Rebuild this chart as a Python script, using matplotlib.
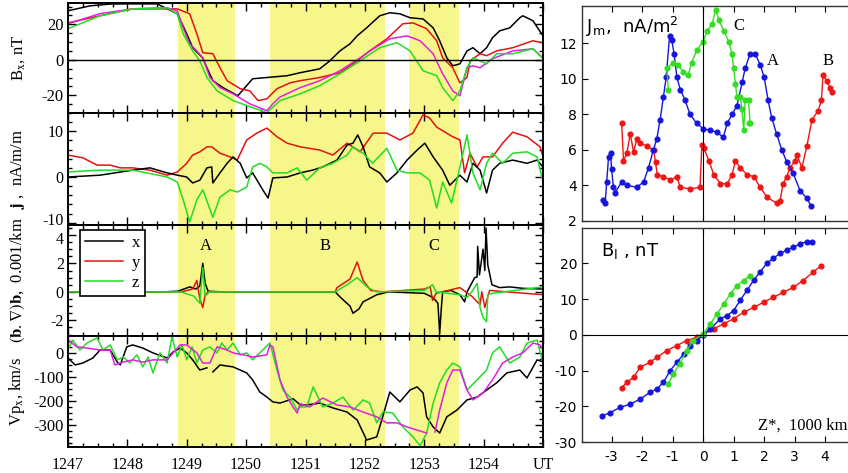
import numpy as np
import matplotlib
matplotlib.use('Agg')
import matplotlib.pyplot as plt
from matplotlib.ticker import MultipleLocator
from matplotlib.transforms import ScaledTranslation

plt.rcParams['axes.unicode_minus'] = False
plt.rcParams['mathtext.fontset'] = 'stix'

SERIF = 'Liberation Serif'
SANS = 'DejaVu Sans'

# ---- time series, minutes after 12:47 UT ----
# Bx, nT
bx_k_t = [0.00, 0.37, 0.71, 0.99, 1.50, 1.84, 2.00, 2.10, 2.27, 2.34, 2.44, 2.61, 2.86, 2.98, 3.11, 3.35, 3.69,
          3.91, 4.24, 4.41, 4.58, 4.75, 4.87, 5.03, 5.25, 5.42, 5.59, 5.76, 5.98, 6.15, 6.26, 6.38, 6.48, 6.60,
          6.72, 6.82, 6.94, 7.05, 7.15, 7.27, 7.44, 7.61, 7.66, 7.83, 8.00]
bx_k = [27.6, 30.4, 31.4, 31.5, 31.5, 26.0, 14.6, 6.8, 1.0, -4.5, -11.8, -15.7, -20.3, -15.7, -10.7, -10.0, -9.0,
        -7.3, -5.1, -0.6, 5.0, 9.0, 13.5, 18.0, 24.8, 26.5, 25.9, 23.7, 23.0, 18.0, 10.7, 1.1, -3.4, -2.3,
        5.0, 6.8, 3.4, 6.8, 12.4, 16.3, 18.0, 23.7, 24.8, 22.0, 13.5]
bx_r_t = [0.00, 0.54, 1.09, 1.84, 2.05, 2.17, 2.27, 2.44, 2.56, 2.68, 2.90, 3.06, 3.20, 3.35, 3.52, 3.74, 3.91,
          4.24, 4.58, 4.87, 5.08, 5.37, 5.64, 5.81, 6.04, 6.21, 6.31, 6.48, 6.60, 6.72, 6.77, 6.94, 7.05, 7.22,
          7.49, 7.83, 8.00]
bx_r = [20.8, 24.8, 28.7, 28.7, 25.9, 14.6, 4.0, 3.4, -4.5, -11.8, -16.3, -17.5, -23.0, -22.0, -16.3, -13.0, -11.8,
        -10.0, -7.3, -0.6, 5.0, 11.8, 20.3, 20.8, 17.5, 10.7, 1.1, -4.5, -13.0, -10.0, -0.6, 3.4, 2.3, 5.0,
        6.8, 10.7, 9.6]
bx_m_t = [0.00, 0.54, 1.09, 1.67, 1.84, 1.94, 2.05, 2.17, 2.27, 2.39, 2.56, 2.78, 3.06, 3.35, 3.45, 3.57, 3.91,
          4.24, 4.58, 4.92, 5.14, 5.42, 5.71, 5.93, 6.15, 6.31, 6.48, 6.60, 6.72, 6.82, 6.94, 7.15, 7.49, 7.83, 8.00]
bx_m = [20.3, 26.0, 28.7, 29.3, 27.6, 18.0, 9.0, 5.0, 1.0, -10.0, -15.7, -19.2, -24.8, -28.7, -24.8, -21.0, -15.7,
        -11.8, -6.2, 1.1, 6.2, 11.8, 13.5, 10.7, 3.4, -7.9, -17.5, -20.3, -4.5, -3.4, -4.5, 0.6, 5.0, 6.2, 1.1]
bx_g_t = [0.00, 0.54, 1.09, 1.67, 1.84, 1.94, 2.10, 2.22, 2.34, 2.51, 2.78, 3.11, 3.35, 3.57, 3.91, 4.24, 4.58,
          4.92, 5.25, 5.54, 5.76, 5.98, 6.21, 6.31, 6.48, 6.60, 6.72, 6.82, 7.05, 7.22, 7.49, 7.83, 8.00]
bx_g = [17.5, 24.8, 28.7, 29.3, 25.9, 14.6, 5.0, -0.6, -10.0, -17.5, -23.0, -27.0, -29.8, -23.0, -19.2, -14.6, -7.9,
        -0.6, 6.8, 9.6, 5.0, -6.2, -9.0, -15.7, -23.0, -17.5, -4.5, 1.1, -2.3, 3.4, 3.4, 6.2, 0.6]

# current density j, nA/m/m
j_r_t = [0.00, 0.25, 0.49, 0.71, 0.88, 1.09, 1.38, 1.67, 1.84, 2.00, 2.10, 2.22, 2.34, 2.42, 2.56, 2.73, 2.85,
         3.01, 3.18, 3.35, 3.52, 3.69, 3.91, 4.24, 4.46, 4.70, 4.92, 5.14, 5.37, 5.59, 5.81, 5.98, 6.09, 6.21,
         6.48, 6.60, 6.68, 6.77, 6.89, 6.99, 7.15, 7.32, 7.49, 7.73, 7.95, 8.00]
j_r = [4.8, 4.2, 2.6, 2.6, 2.0, 2.0, 1.5, 0.4, 1.1, 3.0, 4.8, 5.5, 6.6, 6.6, 5.2, 4.4, 3.7,
       8.1, 9.6, 10.7, 8.8, 7.4, 6.6, 5.9, 4.8, 7.4, 5.5, 9.6, 9.6, 8.1, 9.6, 13.6, 12.9, 10.9,
       8.8, 8.1, 0.9, 5.2, 2.2, 4.4, 4.4, 7.4, 9.8, 8.8, 6.6, 4.4]
j_k_t = [0.00, 0.54, 1.09, 1.38, 1.67, 1.84, 2.00, 2.10, 2.22, 2.34, 2.42, 2.44, 2.56, 2.68, 2.78, 2.90, 3.01,
         3.11, 3.28, 3.37, 3.45, 3.69, 3.91, 4.12, 4.29, 4.53, 4.70, 4.80, 4.88, 4.97, 5.08, 5.25, 5.37, 5.54,
         5.71, 5.88, 6.01, 6.15, 6.31, 6.43, 6.60, 6.72, 6.82, 6.94, 7.05, 7.15, 7.27, 7.49, 7.73, 7.90, 8.00]
j_k = [0.0, 0.4, 1.5, 2.0, 0.9, 0.4, 0.0, -1.3, -0.7, 2.0, 2.2, -1.3, 0.9, 3.0, 4.4, 3.0, -0.2,
       0.9, -2.8, -4.6, -0.2, 0.0, 0.9, 1.5, 2.2, 3.7, 7.0, 7.4, 9.2, 6.6, 2.2, 0.9, -1.1, 0.9,
       3.7, 5.9, 7.4, 4.4, 1.5, -1.8, 0.4, -1.1, 3.0, 1.5, -3.5, 1.5, 3.0, 3.7, 3.0, 3.7, 2.2]
j_g_t = [0.00, 0.54, 1.09, 1.67, 1.84, 1.94, 2.05, 2.17, 2.27, 2.44, 2.56, 2.73, 2.85, 3.01, 3.11, 3.23, 3.35,
         3.45, 3.69, 3.86, 4.02, 4.24, 4.46, 4.70, 4.80, 4.97, 5.13, 5.37, 5.54, 5.71, 5.93, 6.09, 6.21, 6.31,
         6.46, 6.57, 6.72, 6.82, 6.94, 7.05, 7.15, 7.32, 7.49, 7.73, 7.90, 8.00]
j_g = [1.1, 1.5, 1.5, 0.0, -1.1, -5.0, -9.8, -5.0, -2.8, -8.8, -4.4, -2.8, -3.3, -2.2, 2.2, 3.0, 2.2,
       0.9, 0.9, 2.0, -0.7, 2.0, 3.0, 4.8, 6.6, 5.2, 3.0, 6.3, 1.5, 0.9, 0.9, -0.7, -6.8, -1.1,
       -5.7, 0.4, 9.2, 0.9, -2.8, 3.0, 5.2, 3.0, 5.2, 5.5, 4.4, -1.1]

# field-line curvature (b.grad)b, 0.001/km
c_x_t = [0.00, 1.60, 1.85, 2.05, 2.15, 2.22, 2.27, 2.31, 2.36, 2.60, 4.50, 4.58, 4.75, 4.80, 4.90, 4.97, 5.20,
         5.40, 6.00, 6.15, 6.23, 6.26, 6.29, 6.31, 6.45, 6.60, 6.68, 6.72, 6.85, 6.89, 6.90, 6.93, 6.99, 7.02,
         7.04, 7.07, 7.14, 7.27, 7.44, 7.66, 8.00]
c_x = [0.0, 0.0, 0.05, 0.35, 0.2, 0.4, 2.0, 0.6, 0.05, 0.0, 0.0, -0.35, -1.0, -1.5, -1.2, -0.7, -0.2,
       0.0, -0.1, -0.4, -0.8, -2.9, -1.0, 0.0, 0.1, -0.2, -0.7, 0.0, 1.0, 1.05, 3.2, 1.2, 3.0, 1.5,
       4.5, 1.9, 0.5, 0.3, 0.35, 0.25, 0.2]
c_y_t = [0.00, 1.90, 2.10, 2.17, 2.22, 2.27, 2.31, 2.36, 4.50, 4.53, 4.75, 4.87, 4.97, 5.10, 5.30, 6.00, 6.10,
         6.14, 6.20, 6.40, 6.60, 6.80, 6.94, 6.97, 7.02, 7.10, 7.40, 8.00]
c_y = [0.0, 0.0, 0.2, 0.8, -0.5, -1.1, -0.2, 0.0, 0.0, 0.3, 0.9, 2.1, 0.8, 0.1, 0.0, 0.2, 0.35,
       -0.6, -0.1, 0.1, 0.3, -0.3, -0.9, 0.0, -1.1, 0.1, 0.0, -0.2]
c_z_t = [0.00, 1.90, 2.12, 2.22, 2.27, 2.31, 2.38, 4.50, 4.70, 4.87, 5.05, 5.20, 6.00, 6.14, 6.20, 6.60, 6.72,
         6.80, 6.89, 6.94, 6.99, 7.05, 7.07, 7.15, 8.00]
c_z = [0.0, 0.0, -0.3, -0.8, 1.7, -0.3, 0.0, 0.0, 0.5, 1.0, 0.3, 0.0, 0.1, 0.5, 0.0, -0.2, -0.4,
       0.0, 0.6, -1.1, -1.8, -2.1, -0.2, -0.1, 0.35]

# plasma velocity Vpx, km/s (nan = data gap)
vp_k_t = [0.00, 0.12, 0.25, 0.42, 0.54, 0.71, 0.83, 0.88, 0.99, 1.09, 1.26, 1.43, 1.67, 1.77, 1.89, 2.00, 2.10,
          2.22, 2.34, 2.39, 2.44, 2.56, 2.78, 3.01, 3.11, 3.23, 3.35, 3.45, 3.57, 3.79, 3.91, 4.02, 4.24, 4.46,
          4.70, 4.87, 5.03, 5.20, 5.30, 5.42, 5.59, 5.76, 5.88, 5.98, 6.04, 6.15, 6.26, 6.38, 6.55, 6.72, 6.89,
          7.05, 7.22, 7.39, 7.61, 7.73, 7.90, 8.00]
vp_k = [-21, -50, -42, -21, 12, 12, -38, -50, 25, 33, 20, 0, -21, 4, 20, 0, -29,
        -71, -62, np.nan, -79, -50, -58, -83, -112, -162, -183, -203, -208, -190, -215, -216, -208, -228,
        -245, -278, -361, -348, -265, -162, -203, -154, -141, -166, -265, -307, -332, -265, -237, -195, -183,
        -154, -124, -83, -71, -104, -29, -37]
vp_m_t = [0.00, 0.15, 0.32, 0.54, 0.71, 0.79, 0.93, 1.09, 1.26, 1.43, 1.67, 1.77, 1.89, 2.00, 2.17, 2.27, 2.39,
          2.51, 2.68, 2.78, 2.95, 3.11, 3.35, 3.40, 3.45, 3.57, 3.69, 3.79, 3.86, 3.91, 4.07, 4.29, 4.53, 4.75,
          4.97, 5.20, 5.37, 5.54, 5.71, 5.88, 6.04, 6.11, 6.18, 6.26, 6.38, 6.48, 6.60, 6.72, 6.82, 6.99, 7.15,
          7.32, 7.49, 7.66, 7.83, 7.95, 8.00]
vp_m = [53, 25, 20, 12, 12, -50, -38, -29, -38, -29, -29, 0, 33, 33, 0, -42, -42,
        25, 12, 0, -8, -17, -8, 33, 25, -112, -183, -224, -249, -210, -224, -187, -216, -224,
        -245, -265, -290, -290, -307, -320, -332, np.nan, -328, -237, -124, -71, -71, -154, -195, -166, -112,
        -42, -17, 0, 41, 33, 12]
vp_g_t = [0.00, 0.08, 0.20, 0.32, 0.49, 0.59, 0.71, 0.83, 0.93, 1.04, 1.16, 1.26, 1.35, 1.43, 1.55, 1.67, 1.75,
          1.84, 1.92, 2.00, 2.09, 2.17, 2.27, 2.39, 2.51, 2.59, 2.68, 2.78, 2.90, 3.01, 3.11, 3.28, 3.40, 3.52,
          3.62, 3.74, 3.86, 3.91, 4.02, 4.13, 4.29, 4.46, 4.63, 4.80, 4.97, 5.08, 5.20, 5.30, 5.47, 5.64, 5.81,
          5.93, 6.04, 6.15, 6.26, 6.38, 6.48, 6.60, 6.72, 6.89, 7.05, 7.15, 7.27, 7.44, 7.61, 7.73, 7.90, 8.00]
vp_g = [12, 53, 12, 41, 62, 12, 33, -29, -17, -42, -8, -58, -17, -83, 0, -42, 66,
        -17, 33, -29, 25, -42, 12, 25, 0, 41, 12, 41, -8, 0, -29, 12, 41, -71,
        -154, -183, -237, -224, -224, -141, -224, -208, -183, -237, -195, -208, -290, -245, -249, -307, -348,
        -385, -332, -208, -124, -71, -42, -58, -154, -112, -71, 0, 25, -42, -17, 41, 53, -42]

# shaded intervals A, B, C (minutes after 12:47)
bands = [(1.85, 2.81), (3.40, 5.34), (5.74, 6.58)]

# ---- profiles across the sheet, Z* in 1000 km ----
jm_a_z = [-3.29, -3.21, -3.16, -3.10, -3.03, -3.00, -2.94, -2.88, -2.67, -2.50, -2.17, -1.95, -1.79, -1.63, -1.52,
          -1.41, -1.30, -1.21, -1.10, -1.03, -0.95, -0.86, -0.75, -0.59, -0.43, -0.21, 0.00, 0.24, 0.46, 0.66,
          0.79, 0.95, 1.11, 1.28, 1.38, 1.54, 1.71, 1.87, 2.00, 2.13, 2.25, 2.41, 2.58, 2.75, 2.95, 3.18, 3.39, 3.54]
jm_a = [3.2, 3.0, 4.2, 5.6, 5.8, 4.9, 3.9, 3.6, 4.2, 4.0, 3.9, 4.2, 5.0, 6.0, 6.6,
        7.7, 9.0, 10.1, 12.4, 12.2, 11.4, 10.1, 9.4, 8.8, 8.0, 7.5, 7.2, 7.1, 7.0, 6.7,
        7.5, 8.0, 8.5, 9.8, 10.6, 11.4, 11.4, 10.8, 10.1, 8.8, 7.8, 6.9, 6.0, 5.3, 4.7, 3.7, 3.3, 2.85]
jm_b_z = [-2.67, -2.61, -2.50, -2.39, -2.28, -2.17, -2.06, -1.84, -1.62, -1.56, -1.50, -1.30, -1.08, -0.86, -0.75,
          -0.43, -0.10, -0.04, 0.02, 0.19, 0.35, 0.57, 0.79, 0.95, 1.06, 1.22, 1.44, 1.66, 1.87, 2.09, 2.41, 2.52,
          2.62, 2.74, 2.85, 3.01, 3.08, 3.24, 3.40, 3.57, 3.77, 3.88, 3.93, 4.05, 4.16, 4.22]
jm_b = [7.5, 5.4, 5.8, 6.9, 5.9, 6.6, 6.4, 6.2, 6.0, 5.3, 4.6, 4.5, 4.3, 4.5, 3.9,
        3.8, 3.9, 6.3, 6.1, 5.4, 4.6, 4.1, 4.1, 4.6, 5.4, 5.0, 4.6, 4.5, 3.9, 3.35, 3.0, 3.1,
        4.1, 4.5, 5.0, 5.4, 5.7, 5.0, 6.2, 7.7, 8.2, 8.8, 10.2, 9.9, 9.5, 9.25]
jm_c_z = [-1.14, -1.19, -0.98, -0.82, -0.66, -0.49, -0.38, -0.21, 0.00, 0.13, 0.30, 0.41, 0.52, 0.68, 0.84, 0.95,
          1.00, 1.06, 1.11, 1.22, 1.27, 1.33, 1.38, 1.49, 1.54, 1.52]
jm_c = [9.4, 10.6, 10.9, 10.8, 10.4, 10.2, 10.9, 11.6, 12.1, 12.7, 13.1, 13.9, 13.3, 12.7, 12.1, 11.4,
        10.6, 9.7, 9.0, 9.0, 8.3, 7.1, 8.8, 8.8, 7.5, 7.5]

bl_a_z = [-3.32, -3.05, -2.72, -2.39, -2.06, -1.74, -1.52, -1.30, -1.08, -0.86, -0.64, -0.43, -0.21, 0.00, 0.24,
          0.57, 0.79, 1.00, 1.22, 1.44, 1.66, 1.87, 2.09, 2.30, 2.52, 2.74, 2.96, 3.18, 3.39, 3.56]
bl_a = [-22.7, -21.8, -20.3, -19.4, -18.0, -16.1, -15.2, -13.3, -10.0, -7.7, -5.4, -3.0, -1.6, 0.0, 1.7,
        4.5, 5.4, 6.8, 9.7, 12.5, 15.3, 17.6, 20.0, 21.4, 22.8, 23.7, 24.6, 25.4, 26.1, 26.1]
bl_b_z = [-2.67, -2.50, -2.28, -2.06, -1.74, -1.52, -1.19, -0.86, -0.54, -0.21, 0.00, 0.35, 0.68, 1.00, 1.33,
          1.66, 1.98, 2.30, 2.63, 2.96, 3.28, 3.61, 3.88]
bl_b = [-14.8, -13.3, -11.9, -9.0, -7.7, -6.3, -4.4, -3.0, -1.6, -0.7, 0.0, 1.7, 3.1, 4.5, 6.3,
        7.7, 9.1, 10.5, 11.9, 13.3, 15.2, 17.6, 19.4]
bl_c_z = [-1.14, -0.98, -0.77, -0.54, -0.32, 0.00, 0.24, 0.46, 0.68, 0.90, 1.11, 1.33, 1.54]
bl_c = [-13.8, -11.0, -8.2, -4.4, -1.6, 0.3, 3.1, 5.9, 8.7, 11.5, 13.8, 15.2, 16.6]

T0 = 1247
BLACK, RED, GREEN, MAGENTA = 'black', '#e3120f', '#22dd22', '#e020e0'
BLUE, RED2, GREEN2 = '#1515dd', '#ee1515', '#33dd22'
YELLOW = '#f6f68a'

fig = plt.figure(figsize=(8.48, 4.73), dpi=100)
W, H = 848.0, 473.0


def px_axes(x0, y0, x1, y1):
    return fig.add_axes([x0 / W, 1 - y1 / H, (x1 - x0) / W, (y1 - y0) / H])


def t(vals):
    return T0 + np.array(vals)


lefts = [px_axes(68, 3, 543, 113), px_axes(68, 113, 543, 225),
         px_axes(68, 225, 543, 336), px_axes(68, 336, 543, 447)]
ax1, ax2, ax3, ax4 = lefts

ax1.plot(t(bx_k_t), bx_k, color=BLACK, lw=1.1)
ax1.plot(t(bx_r_t), bx_r, color=RED, lw=1.1)
ax1.plot(t(bx_m_t), bx_m, color=MAGENTA, lw=1.1)
ax1.plot(t(bx_g_t), bx_g, color=GREEN, lw=1.1)
ax1.axhline(0, color='black', lw=1.0)
ax1.set_ylim(-30, 32)
ax1.set_yticks([-20, 0, 20])
ax1.yaxis.set_minor_locator(MultipleLocator(5))

ax2.plot(t(j_r_t), j_r, color=RED, lw=1.1)
ax2.plot(t(j_k_t), j_k, color=BLACK, lw=1.1)
ax2.plot(t(j_g_t), j_g, color=GREEN, lw=1.1)
ax2.set_ylim(-10.5, 14)
ax2.set_yticks([-10, 0, 10])
ax2.yaxis.set_minor_locator(MultipleLocator(2))

ax3.plot(t(c_x_t), c_x, color=BLACK, lw=1.1, label='x')
ax3.plot(t(c_y_t), c_y, color=RED, lw=1.1, label='y')
ax3.plot(t(c_z_t), c_z, color=GREEN, lw=1.1, label='z')
ax3.set_ylim(-3.1, 4.7)
ax3.set_yticks([-2, 0, 2, 4])
ax3.yaxis.set_minor_locator(MultipleLocator(0.5))
leg = ax3.legend(loc='upper left', bbox_to_anchor=(0.025, 0.955), borderaxespad=0,
                 prop={'family': SERIF, 'size': 12},
                 frameon=True, fancybox=False, edgecolor='black', framealpha=1,
                 handlelength=2.3, handletextpad=0.5, labelspacing=0.25, borderpad=0.3)
leg.get_frame().set_linewidth(1.2)
for txt, tx in zip(['A', 'B', 'C'], [1249.32, 1251.33, 1253.17]):
    ax3.text(tx, 3.2, txt, family=SERIF, fontsize=12, ha='center', va='center')

ax4.plot(t(vp_k_t), vp_k, color=BLACK, lw=1.1)
ax4.plot(t(vp_g_t), vp_g, color=GREEN, lw=1.1)
ax4.plot(t(vp_m_t), vp_m, color=MAGENTA, lw=1.1)
ax4.set_ylim(-390, 70)
ax4.set_yticks([-300, -200, -100, 0])
ax4.yaxis.set_minor_locator(MultipleLocator(25))

ylabels = [r'B$_\mathrm{x}$, nT', r'$\mathbf{j}$ ,  nA/m/m',
           r'$(\mathbf{b}.\nabla)\mathbf{b}$,  0.001/km', r'Vp$_\mathrm{x}$, km/s']
for ax, lab in zip(lefts, ylabels):
    for a, b in bands:
        ax.axvspan(T0 + a, T0 + b, color=YELLOW, lw=0, zorder=0)
    ax.set_xlim(1247, 1255)
    ax.set_xticks(np.arange(1247, 1256))
    ax.xaxis.set_minor_locator(MultipleLocator(0.25))
    ax.tick_params(which='both', direction='in', top=True, right=True, width=1.0)
    ax.tick_params(which='major', length=6)
    ax.tick_params(which='minor', length=3)
    ax.tick_params(axis='y', labelsize=12, pad=3)
    for lbl in ax.get_yticklabels():
        lbl.set_family(SERIF)
    for s in ax.spines.values():
        s.set_linewidth(1.4)
    ax.set_ylabel(lab, family=SERIF, fontsize=12, math_fontfamily='stix')
    ax.yaxis.set_label_coords(-0.087, 0.5)
    if ax is not ax4:
        ax.tick_params(labelbottom=False)

# the -10 and 4 labels sit at the shared panel edge; nudge them apart
ax2.get_yticklabels()[0].set_transform(
    ax2.get_yticklabels()[0].get_transform() + ScaledTranslation(0, 3 / 72, fig.dpi_scale_trans))
ax3.get_yticklabels()[-1].set_transform(
    ax3.get_yticklabels()[-1].get_transform() + ScaledTranslation(0, -2 / 72, fig.dpi_scale_trans))
for lbl in ax2.get_yticklabels() + ax3.get_yticklabels():
    lbl.set_fontsize(11.5)

ax4.set_xticklabels([str(v) for v in range(1247, 1255)] + ['UT'], family=SERIF, fontsize=11.5)
ax4.tick_params(axis='x', pad=7)

# ---- right panels ----
rx0, rx1 = 582, 848
axj = px_axes(rx0, 6, rx1, 221)
axb = px_axes(rx0, 228, rx1, 442)
zlim = (-3.97, 4.75)

mk = dict(marker='o', markersize=3.4, lw=1.0)
axj.plot(jm_b_z, jm_b, color=RED2, **mk)
axj.plot(jm_a_z, jm_a, color=BLUE, **mk)
axj.plot(jm_c_z, jm_c, color=GREEN2, **mk)
axj.axvline(0, color='black', lw=0.8)
axj.set_ylim(2, 14.1)
axj.set_yticks([2, 4, 6, 8, 10, 12])
axj.text(-3.85, 12.9, r'J$_\mathrm{m}$,  nA/m$^2$', family=SANS, fontsize=13,
         math_fontfamily='dejavusans', va='center')
axj.text(1.18, 13.0, 'C', family=SERIF, fontsize=12, ha='center', va='center')
axj.text(2.28, 11.0, 'A', family=SERIF, fontsize=12, ha='center', va='center')
axj.text(4.1, 11.0, 'B', family=SERIF, fontsize=12, ha='center', va='center')
axj.tick_params(labelbottom=False)

axb.plot(bl_b_z, bl_b, color=RED2, **mk)
axb.plot(bl_a_z, bl_a, color=BLUE, **mk)
axb.plot(bl_c_z, bl_c, color=GREEN2, **mk)
axb.axvline(0, color='black', lw=0.8)
axb.axhline(0, color='black', lw=0.8)
axb.set_ylim(-30, 29.9)
axb.set_yticks([-30, -20, -10, 0, 10, 20])
axb.text(-3.35, 23.5, r'B$_\mathrm{l}$ , nT', family=SANS, fontsize=13,
         math_fontfamily='dejavusans', va='center')
axb.text(4.72, -25.5, 'Z*,  1000 km', family=SERIF, fontsize=12, ha='right', va='center')

for ax in (axj, axb):
    ax.set_xlim(*zlim)
    ax.set_xticks(np.arange(-3, 5))
    ax.tick_params(which='both', direction='in', top=True, length=4, labelsize=10, width=0.8)
    ax.spines['right'].set_visible(False)
    for s in ('top', 'left', 'bottom'):
        ax.spines[s].set_color('#333333')
        ax.spines[s].set_linewidth(1.0)
    for lbl in ax.get_xticklabels() + ax.get_yticklabels():
        lbl.set_family(SANS)
axb.tick_params(axis='x', pad=6)

fig.savefig('out.png', dpi=100)
